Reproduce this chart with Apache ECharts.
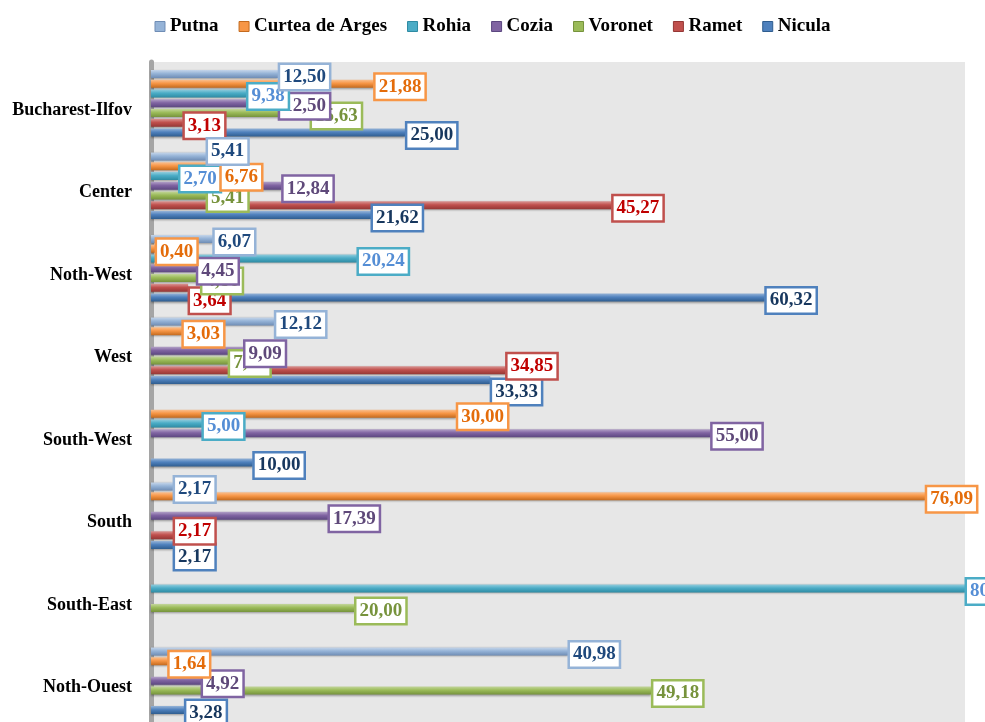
<!DOCTYPE html>
<html>
<head>
<meta charset="utf-8">
<script src="https://cdn.jsdelivr.net/npm/echarts@6/dist/echarts.min.js"></script>
<style>html,body{margin:0;padding:0;background:#fff}#chart{width:985px;height:722px}</style>
</head>
<body>
<div id="chart"></div>
<script>
const categories = ['Bucharest-Ilfov', 'Center', 'Noth-West', 'West', 'South-West', 'South', 'South-East', 'Noth-Ouest'];
const seriesNames = ['Putna', 'Curtea de Arges', 'Rohia', 'Cozia', 'Voronet', 'Ramet', 'Nicula'];
const putna   = [12.50, 5.41, 6.07, 12.12, null, 2.17, null, 40.98];
const curtea  = [21.88, 6.76, 0.40, 3.03, 30.00, 76.09, null, 1.64];
const rohia   = [9.38, 2.70, 20.24, null, 5.00, null, 80.00, null];
const cozia   = [12.50, 12.84, 4.45, 9.09, 55.00, 17.39, null, 4.92];
const voronet = [15.63, 5.41, 4.86, 7.58, null, null, 20.00, 49.18];
const ramet   = [3.13, 45.27, 3.64, 34.85, null, 2.17, null, null];
const nicula  = [25.00, 21.62, 60.32, 33.33, 10.00, 2.17, null, 3.28];
const seriesData = [putna, curtea, rohia, cozia, voronet, ramet, nicula];

const barColors  = ['#95B3D7', '#F79646', '#4BACC6', '#8064A2', '#9BBB59', '#C0504D', '#4F81BD'];
const lightCols  = ['#C6D6EA', '#FAC090', '#93CDDD', '#B3A2C7', '#C3D69B', '#DA9694', '#95B3D7'];
const darkCols   = ['#6F8DB5', '#C46A1E', '#2E8BA3', '#5C4780', '#76933C', '#953735', '#2F5D8F'];
const labelText  = ['#1F497D', '#E46C0A', '#558ED5', '#5F497A', '#77933C', '#C00000', '#17375E'];

// when a label would collide with a neighbouring series' label, nudge it vertically (as in the original)
const shiftRules = {
  0: [{ other: 1, dy: -8 }],
  1: [{ other: 0, dy: 8 }],
  5: [{ other: 6, dy: -7 }, { other: 4, dy: 10 }],
  6: [{ other: 5, dy: 9 }]
};
const nS = seriesNames.length;
function labelLayoutFn(p) {
  const si = p.seriesIndex - nS;
  const rules = shiftRules[si];
  let dy = 3;
  if (!rules) return { dy: dy };
  const v = seriesData[si][p.dataIndex];
  if (!v) return { dy: dy };
  const scale = p.rect.width / v;
  rules.forEach(r => {
    const ov = seriesData[r.other][p.dataIndex];
    if (ov != null && Math.abs((ov - v) * scale) < p.labelRect.width) dy += r.dy;
  });
  return { dy: dy };
}

const chart = echarts.init(document.getElementById('chart'));
const fmt = v => v.value == null ? '' : Number(v.value).toFixed(2).replace('.', ',');

const barSeries = seriesNames.map((name, i) => ({
  name: name,
  type: 'bar',
  z: 2,
  yAxisIndex: 0,
  data: seriesData[i],
  barWidth: 8,
  barGap: '22%',
  itemStyle: {
    color: new echarts.graphic.LinearGradient(0, 0, 0, 1, [
      { offset: 0, color: lightCols[i] },
      { offset: 0.45, color: barColors[i] },
      { offset: 1, color: darkCols[i] }
    ]),
    shadowColor: 'rgba(0,0,0,0.35)',
    shadowBlur: 2,
    shadowOffsetY: 1
  },
  label: { show: false }
}));

const labelSeries = seriesNames.map((name, i) => ({
  name: name,
  type: 'bar',
  z: 30 - i,
  yAxisIndex: 1,
  data: seriesData[i],
  barWidth: 8,
  barGap: '22%',
  silent: true,
  itemStyle: { color: 'rgba(0,0,0,0)' },
  labelLayout: labelLayoutFn,
  label: {
    show: true,
    position: 'right',
    distance: 2,
    formatter: fmt,
    fontFamily: 'Liberation Serif',
    fontWeight: 'bold',
    fontSize: 19,
    lineHeight: 20,
    color: labelText[i],
    backgroundColor: '#fff',
    borderColor: barColors[i],
    borderWidth: 2.5,
    padding: [2, 3, 2, 3]
  }
}));

const yAxisBase = {
  type: 'category',
  inverse: true,
  data: categories
};

chart.setOption({
  animation: false,
  backgroundColor: '#fff',
  legend: {
    top: 12,
    left: 'center',
    itemWidth: 10,
    itemHeight: 10,
    itemGap: 20,
    icon: 'rect',
    textStyle: { fontFamily: 'Liberation Serif', fontWeight: 'bold', fontSize: 19, color: '#000' },
    data: seriesNames.map((n, i) => ({ name: n, itemStyle: { color: barColors[i], borderColor: darkCols[i], borderWidth: 1 } }))
  },
  grid: {
    left: 151, right: 20, top: 62, bottom: -1,
    show: true, backgroundColor: '#E7E7E7', borderWidth: 0
  },
  xAxis: {
    type: 'value', min: 0, max: 80, show: false,
    splitLine: { show: false }
  },
  yAxis: [
    Object.assign({}, yAxisBase, {
      offset: 5,
      axisTick: { show: false },
      axisLine: { show: true, lineStyle: { color: '#A5A5A5', width: 5 } },
      axisLabel: {
        margin: 14,
        fontFamily: 'Liberation Serif', fontWeight: 'bold', fontSize: 18, color: '#000',
        verticalAlign: 'top', lineHeight: 14
      }
    }),
    Object.assign({}, yAxisBase, { show: false, position: 'left' })
  ],
  series: barSeries.concat(labelSeries)
});
</script>
</body>
</html>
